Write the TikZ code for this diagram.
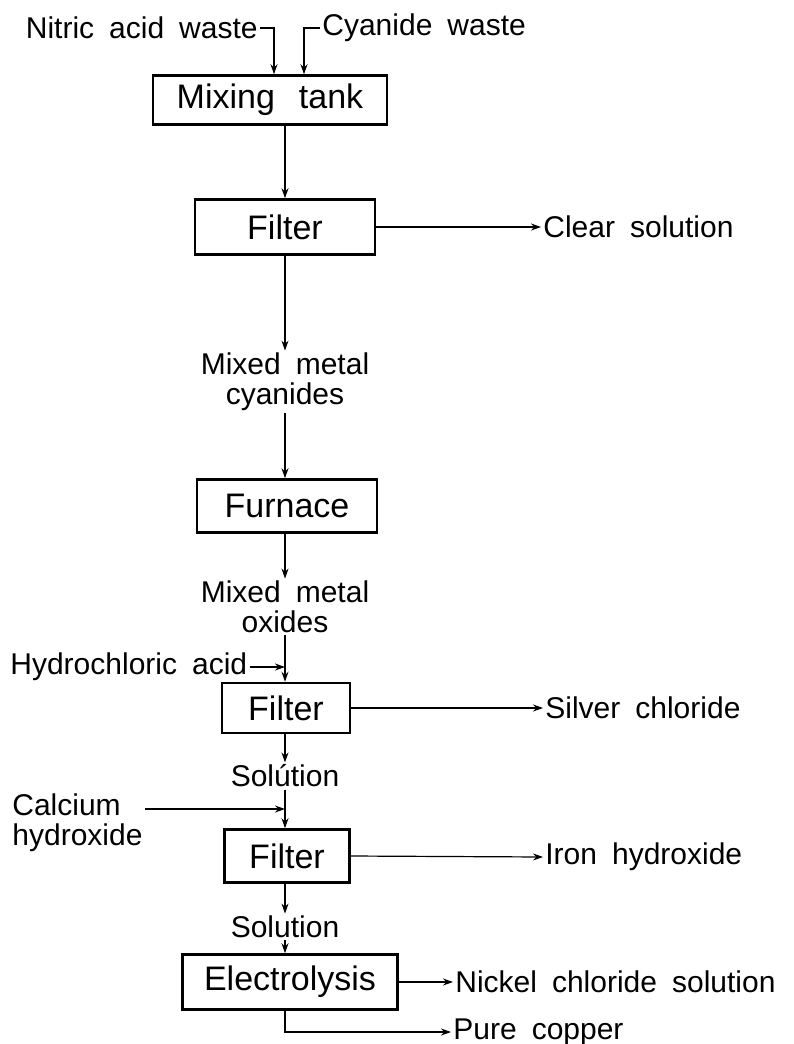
\documentclass[tikz,border=0pt]{standalone}
\usepackage{fontspec}
\setmainfont[WordSpace=1.8]{Liberation Sans}
\usetikzlibrary{arrows.meta, positioning}
\tikzset{
        >={Stealth[length=5pt,width=3.5pt]}, % small filled heads
        unit/.style={draw, line width=1.3pt, inner sep=0pt, font=\fontsize{17}{20}\selectfont}, % process boxes
        stream/.style={inner sep=1pt, align=center, font=\fontsize{15}{15}\selectfont}, % plain texts
        flow/.style={->, line width=0.6pt},
    }
\begin{document}
\begin{tikzpicture}[x=0.5pt, y=-0.5pt]
    \useasboundingbox (0,0) rectangle (793,1044);
    % main column
    \node[unit, minimum width=117pt, minimum height=24.5pt] (mix) at (270,100) {Mixing\hspace{12pt}tank};
    \node[unit, minimum width=90pt, minimum height=27.5pt] (filt1) at (285,227) {Filter};
    \node[stream] (cyanides) at (285,382) {Mixed metal\\cyanides};
    \node[unit, minimum width=90pt, minimum height=26.5pt] (furnace) at (287,506) {Furnace};
    \node[stream] (oxides) at (285,607) {Mixed metal\\oxides};
    \node[unit, minimum width=64pt, minimum height=25pt] (filt2) at (286,708) {Filter};
    \node[stream] (sol1) at (285,776) {Solútion};
    \node[unit, minimum width=62.5pt, minimum height=26.5pt] (filt3) at (287,856) {Filter};
    \node[stream] (sol2) at (285,927) {Solution};
    \node[unit, minimum width=107.5pt, minimum height=27.5pt] (elec) at (290,982) {Electrolysis};
    % inputs
    \node[stream, anchor=east] (nitric) at (260,28) {Nitric acid waste};
    \node[stream, anchor=west] (cyanide) at (320,28) {Cyanide waste};
    \node[stream, anchor=west] (hcl) at (8,667) {Hydrochloric acid};
    \node[stream, anchor=west, align=left] (calcium) at (10,823) {Calcium\\hydroxide};
    % outputs
    \node[stream, anchor=west] (clear) at (541,227) {Clear solution};
    \node[stream, anchor=west] (silver) at (543,708) {Silver chloride};
    \node[stream, anchor=west] (iron) at (543,857) {Iron hydroxide};
    \node[stream, anchor=west] (nickel) at (453,982) {Nickel chloride solution};
    \node[stream, anchor=west] (copper) at (451,1032) {Pure copper};
    \coordinate (hclin) at (285,667);
    \coordinate (cain) at (285,809);

    \draw[flow] (nitric.east) -| ([xshift=2pt]mix.north);
    \draw[flow] (cyanide.west) -| ([xshift=17pt]mix.north);
    \draw[flow] (mix.south -| filt1.north) -- (filt1.north);
    \draw[flow] (filt1.south) -- (cyanides.north);
    \draw[flow] (cyanides.south) -- (cyanides.south |- furnace.north);
    \draw[flow] (furnace.south -| oxides) -- (oxides.north);
    \draw[flow] (oxides.south) -- (oxides.south |- filt2.north);
    \draw[flow] (hcl.east) -- (hclin);
    \draw[flow] (filt2.south -| sol1) -- (sol1.north);
    \draw[flow] (sol1.south) -- (sol1.south |- filt3.north);
    \draw[flow] (calcium.east |- cain) -- (cain);
    \draw[flow] (filt3.south -| sol2) -- (sol2.north);
    \draw[flow] (sol2.south) -- (sol2.south |- elec.north);
    \draw[flow] (elec.south -| sol2) |- (copper.west);
    \draw[flow] (filt1.east) -- (clear.west);
    \draw[flow] (filt2.east) -- (silver.west);
    \draw[flow] (filt3.east) -- (iron.west);
    \draw[flow] (elec.east) -- (nickel.west);
\end{tikzpicture}
\end{document}
